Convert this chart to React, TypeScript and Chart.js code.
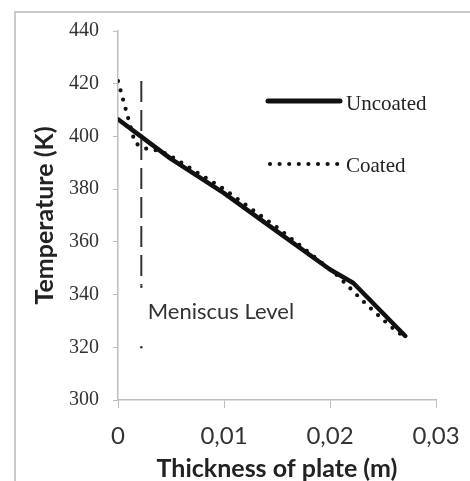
import React, { useEffect, useRef } from 'react';
import { Chart, registerables } from 'chart.js';

Chart.register(...registerables);

// ---- data ----
const uncoatedX = [0, 0.002, 0.005, 0.01, 0.015, 0.02, 0.0222, 0.0271];
const uncoatedT = [406.5, 400.5, 391.5, 378.5, 364, 349.5, 344.4, 324.3];

const coatedX = [0, 0.0016, 0.0025, 0.004, 0.005, 0.01, 0.015, 0.0205, 0.0215, 0.0225, 0.0235, 0.025, 0.026, 0.027];
const coatedT = [421, 397.5, 395.5, 394.5, 392.5, 380, 365.5, 348, 344, 340, 336, 330.5, 327, 324];

const meniscusX = [0.0022, 0.0022];
const meniscusT = [421, 343.5];
const meniscusDotX = [0.0022, 0.0022];
const meniscusDotT = [343, 320];

const yMin = 300;
const yMax = 440;
const yStep = 20;
const xMin = 0;
const xMax = 0.03;
const xStep = 0.01;
const xTickLabels = ['0', '0,01', '0,02', '0,03'];

const seriesNames = ['Uncoated', 'Coated'];
const annotationText = 'Meniscus Level';
const annotationPos = { x: 0.0028, y: 333.5 };

const xTitle = 'Thickness of plate (m)';
const yTitle = 'Temperature (K)';

const zip = (xs: number[], ys: number[]) => xs.map((x, i) => ({ x, y: ys[i] }));

const decorPlugin = {
  id: 'decor',
  beforeDraw(chart: any) {
    const { ctx, width, height } = chart;
    ctx.save();
    ctx.fillStyle = '#ffffff';
    ctx.fillRect(0, 0, width, height);
    ctx.strokeStyle = '#c9c9c9';
    ctx.lineWidth = 2;
    ctx.strokeRect(15, 12, width + 20, height + 20);
    ctx.restore();
  },
  afterDraw(chart: any) {
    const { ctx, chartArea, scales } = chart;
    ctx.save();
    // legend
    const lx0 = chartArea.left + 150;
    const lx1 = chartArea.left + 222;
    const ly1 = chartArea.top + 70;
    const ly2 = chartArea.top + 133;
    ctx.strokeStyle = '#111';
    ctx.lineCap = 'round';
    ctx.lineWidth = 5;
    ctx.beginPath();
    ctx.moveTo(lx0, ly1);
    ctx.lineTo(lx1, ly1);
    ctx.stroke();
    ctx.lineWidth = 4.2;
    ctx.setLineDash([0, 9.6]);
    ctx.beginPath();
    ctx.moveTo(lx0 + 2, ly2);
    ctx.lineTo(lx1 - 2, ly2);
    ctx.stroke();
    ctx.setLineDash([]);
    ctx.fillStyle = '#222';
    ctx.font = '21px "Liberation Serif"';
    ctx.textBaseline = 'middle';
    ctx.textAlign = 'left';
    ctx.fillText(seriesNames[0], lx1 + 6, ly1 + 3);
    ctx.fillText(seriesNames[1], lx1 + 6, ly2 + 2);
    // annotation
    ctx.fillStyle = '#333';
    ctx.font = '22px Lato';
    ctx.fillText(annotationText, scales.x.getPixelForValue(annotationPos.x), scales.y.getPixelForValue(annotationPos.y));
    ctx.restore();
  },
};

export default function App() {
  const ref = useRef<HTMLCanvasElement | null>(null);
  useEffect(() => {
    if (!ref.current) return;
    const axisColor = '#bdbdbd';
    const chart = new Chart(ref.current, {
      type: 'scatter',
      data: {
        datasets: [
          {
            label: 'Meniscus',
            data: zip(meniscusX, meniscusT),
            showLine: true,
            borderColor: '#333',
            borderWidth: 2,
            borderDash: [21, 8],
            pointRadius: 0,
          },
          {
            label: 'MeniscusDots',
            data: zip(meniscusDotX, meniscusDotT),
            showLine: false,
            backgroundColor: '#333',
            borderColor: '#333',
            pointRadius: 1.3,
            borderWidth: 0,
          },
          {
            label: seriesNames[1],
            data: zip(coatedX, coatedT),
            showLine: true,
            borderColor: '#111',
            borderWidth: 4.2,
            borderDash: [0, 9.6],
            borderCapStyle: 'round',
            pointRadius: 0,
            tension: 0,
          },
          {
            label: seriesNames[0],
            data: zip(uncoatedX, uncoatedT),
            showLine: true,
            borderColor: '#111',
            borderWidth: 4.5,
            borderCapStyle: 'round',
            borderJoinStyle: 'round',
            pointRadius: 0,
            tension: 0,
          },
        ],
      },
      options: {
        animation: false,
        responsive: false,
        maintainAspectRatio: false,
        layout: { padding: { left: 28, top: 31, right: 34, bottom: 0 } },
        plugins: { legend: { display: false }, tooltip: { enabled: false } },
        scales: {
          x: {
            type: 'linear',
            min: xMin,
            max: xMax,
            afterFit: (s: any) => { s.height = 81; s.paddingLeft = 0; s.paddingRight = 0; },
            afterBuildTicks: (s: any) => {
              s.ticks = xTickLabels.map((_, i) => ({ value: xMin + i * xStep }));
            },
            ticks: {
              callback: (_v: any, i: number) => xTickLabels[i],
              color: '#333',
              font: { family: 'Lato', size: 24 },
              padding: 14,
              maxRotation: 0,
            },
            grid: { drawOnChartArea: false, drawTicks: true, tickLength: 8, color: axisColor },
            border: { color: axisColor, width: 1.5 },
            title: {
              display: true,
              text: xTitle,
              color: '#222',
              font: { family: 'Lato', size: 25, weight: 'bold', lineHeight: 1 },
              padding: { top: 0, bottom: 0 },
            },
          },
          y: {
            type: 'linear',
            min: yMin,
            max: yMax,
            afterFit: (s: any) => { s.width = 90; s.paddingTop = 0; s.paddingBottom = 0; },
            ticks: {
              stepSize: yStep,
              color: '#333',
              font: { family: 'Liberation Serif', size: 20 },
              padding: 14,
            },
            grid: { drawOnChartArea: false, drawTicks: true, tickLength: 5, color: axisColor },
            border: { color: axisColor, width: 1.5 },
            title: {
              display: true,
              text: yTitle,
              color: '#222',
              font: { family: 'Lato', size: 25, weight: 'bold', lineHeight: 1 },
              padding: { top: 4, bottom: 0 },
            },
          },
        },
      },
      plugins: [decorPlugin],
    } as any);
    return () => chart.destroy();
  }, []);
  return (
    <div style={{ position: 'fixed', left: 0, top: 0, width: 470, height: 481, background: '#fff' }}>
      <canvas ref={ref} width={470} height={481} style={{ width: 470, height: 481, display: 'block' }} />
    </div>
  );
}
